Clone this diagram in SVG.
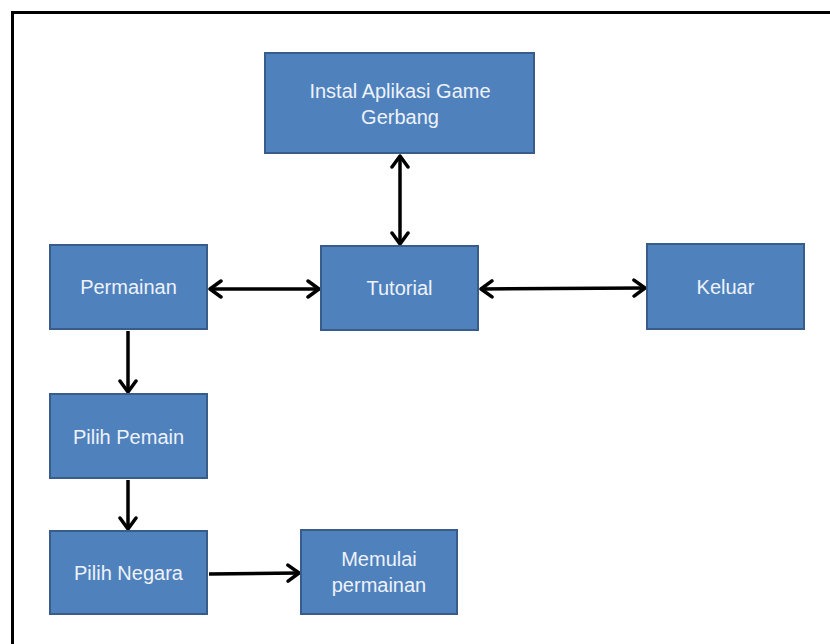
<svg xmlns="http://www.w3.org/2000/svg" width="830" height="644" viewBox="0 0 830 644">
<style>
.node rect{fill:#4F81BD;stroke:#385D8A;stroke-width:2}
.node text{fill:#EEF2FA;font-family:"Liberation Sans",Arial,sans-serif;font-size:20px;text-anchor:middle}
.conn line{stroke:#000;stroke-width:3.5;fill:none}
</style>
<defs>
<marker id="ah" viewBox="0 0 16 20" refX="14" refY="10" markerWidth="16" markerHeight="20" markerUnits="userSpaceOnUse" orient="auto-start-reverse">
<path d="M3,2 L14,10 L3,18" fill="none" stroke="#000" stroke-width="3.5" stroke-linecap="round" stroke-linejoin="round"/>
</marker>
</defs>
<rect x="0" y="0" width="830" height="644" fill="#fff"/>
<path d="M12.5,650 L12.5,12.5 L840,12.5" fill="none" stroke="#000" stroke-width="3"/>
<g class="conn">
<line x1="400" y1="156" x2="400" y2="244" marker-start="url(#ah)" marker-end="url(#ah)"/>
<line x1="210" y1="289" x2="319" y2="289" marker-start="url(#ah)" marker-end="url(#ah)"/>
<line x1="481" y1="289" x2="645" y2="288" marker-start="url(#ah)" marker-end="url(#ah)"/>
<line x1="128" y1="331" x2="128" y2="392" marker-end="url(#ah)"/>
<line x1="128" y1="480" x2="128" y2="529" marker-end="url(#ah)"/>
<line x1="209" y1="574" x2="299" y2="573" marker-end="url(#ah)"/>
</g>
<g id="instal" class="node"><rect x="265" y="53" width="269" height="100"/><text x="400" y="98">Instal Aplikasi Game</text><text x="400" y="124">Gerbang</text></g>
<g id="permainan" class="node"><rect x="50" y="245" width="157" height="84"/><text x="128.5" y="294">Permainan</text></g>
<g id="tutorial" class="node"><rect x="321" y="246" width="157" height="84"/><text x="399.5" y="295">Tutorial</text></g>
<g id="keluar" class="node"><rect x="647" y="244" width="157" height="85"/><text x="725.5" y="294">Keluar</text></g>
<g id="pilih-pemain" class="node"><rect x="50" y="394" width="157" height="84"/><text x="128.5" y="444">Pilih Pemain</text></g>
<g id="pilih-negara" class="node"><rect x="50" y="531" width="157" height="83"/><text x="128.5" y="580">Pilih Negara</text></g>
<g id="memulai" class="node"><rect x="301" y="530" width="156" height="84"/><text x="379" y="566">Memulai</text><text x="379" y="592">permainan</text></g>
</svg>
